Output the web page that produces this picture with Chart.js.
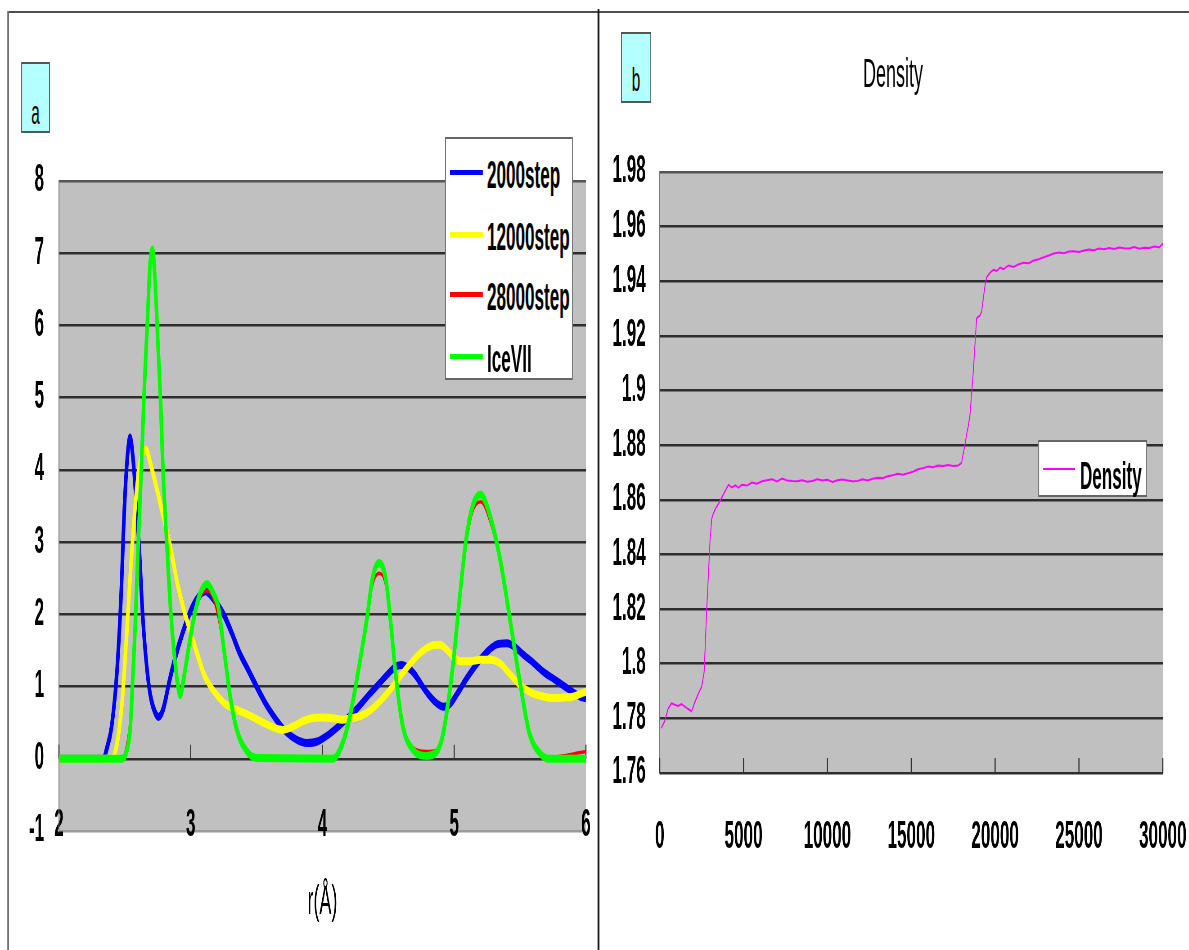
<!DOCTYPE html>
<html>
<head>
<meta charset="utf-8">
<script src="https://cdn.jsdelivr.net/npm/chart.js@4.4.1/dist/chart.umd.min.js"></script>
<style>
  html, body { margin: 0; padding: 0; background: #fff; overflow: hidden; }
  body { width: 1189px; height: 950px; position: relative; }
  /* the source image is squeezed sideways, so the whole sheet is drawn wide and scaled down */
  #page {
    --k: 2.222222;
    position: absolute; left: 0; top: 0;
    width: calc(1189px * var(--k)); height: 950px;
    transform: scaleX(0.45); transform-origin: 0 0;
    font-family: "Liberation Sans", Arial, sans-serif;
    font-weight: bold;
    color: #000;
  }
  #page div, #page canvas { position: absolute; }
  .tag { background: #b4ffff; border: 2px solid #555; box-sizing: border-box; }
  .tagText { font-size: 34px; line-height: 34px; text-align: center; font-weight: normal; }
  .legend { background: #fff; border: 2px solid #666; box-sizing: border-box; }
  .swatch { height: 5px; }
  .legText { font-size: 38px; line-height: 44px; white-space: nowrap; }
</style>
</head>
<body>
<div id="page">
  <!-- frames -->
  <div style="left:calc(8px*var(--k)); top:11px; width:calc(1181px*var(--k)); height:2px; background:#4d4d4d"></div>
  <div style="left:calc(7px*var(--k)); top:11px; width:calc(2px*var(--k)); height:939px; background:#6e6e6e"></div>
  <div style="left:calc(597.5px*var(--k)); top:9px; width:calc(2px*var(--k)); height:941px; background:#1a1a1a"></div>

  <canvas id="rdfChart" width="1329" height="950" style="left:0; top:0"></canvas>
  <canvas id="densityChart" width="1309" height="950" style="left:1333px; top:0"></canvas>

  <!-- panel a -->
  <div class="tag" style="left:calc(21px*var(--k)); top:62px; width:calc(29px*var(--k)); height:71px"></div>
  <div class="tagText" style="left:calc(21px*var(--k)); top:95px; width:calc(29px*var(--k))">a</div>

  <div class="legend" style="left:calc(445px*var(--k)); top:137px; width:calc(128px*var(--k)); height:243px"></div>
  <div class="swatch" style="left:calc(450px*var(--k)); top:170px; width:calc(33px*var(--k)); background:#0000ff"></div>
  <div class="legText" style="left:calc(487px*var(--k)); top:153px">2000step</div>
  <div class="swatch" style="left:calc(450px*var(--k)); top:232px; width:calc(33px*var(--k)); background:#ffff00"></div>
  <div class="legText" style="left:calc(487px*var(--k)); top:215px">12000step</div>
  <div class="swatch" style="left:calc(450px*var(--k)); top:292px; width:calc(33px*var(--k)); background:#ff0000"></div>
  <div class="legText" style="left:calc(487px*var(--k)); top:275px">28000step</div>
  <div class="swatch" style="left:calc(450px*var(--k)); top:354px; width:calc(33px*var(--k)); background:#00ff00"></div>
  <div class="legText" style="left:calc(487px*var(--k)); top:337px">IceVII</div>

  <!-- panel b -->
  <div class="tag" style="left:calc(621px*var(--k)); top:32px; width:calc(30px*var(--k)); height:71px"></div>
  <div class="tagText" style="left:calc(621px*var(--k)); top:62px; width:calc(30px*var(--k))">b</div>
  <div style="left:calc(793px*var(--k)); top:52px; width:calc(200px*var(--k)); font-size:40px; line-height:42px; text-align:center; font-weight:normal">Density</div>

  <div class="legend" style="left:calc(1038px*var(--k)); top:440px; width:calc(109px*var(--k)); height:57px"></div>
  <div class="swatch" style="left:calc(1043px*var(--k)); top:468px; width:calc(32px*var(--k)); height:2px; background:#ff00ff"></div>
  <div class="legText" style="left:calc(1080px*var(--k)); top:454px">Density</div>
</div>

<script>
// ---- panel a: radial distribution g(r) ----
const rdfXTicks = [2, 3, 4, 5, 6];
const rdfYTicks = [-1, 0, 1, 2, 3, 4, 5, 6, 7, 8];

const r2000 = [2.0, 2.34, 2.36, 2.40, 2.44, 2.47, 2.50, 2.525, 2.54, 2.56,
               2.585, 2.61, 2.635, 2.655, 2.68, 2.70, 2.73, 2.755, 2.79, 2.84,
               2.89, 2.94, 3.0, 3.05, 3.11, 3.17, 3.25, 3.31, 3.37, 3.44,
               3.5, 3.57, 3.65, 3.72, 3.8, 3.88, 3.96, 4.05, 4.13, 4.2,
               4.28, 4.36, 4.44, 4.51, 4.56, 4.6, 4.65, 4.7, 4.75, 4.8,
               4.86, 4.92, 4.97, 5.03, 5.09, 5.15, 5.2, 5.26, 5.32, 5.4,
               5.46, 5.52, 5.6, 5.68, 5.76, 5.84, 5.92, 5.97, 6.0];
const g2000 = [0, 0, 0.12, 0.45, 1.2, 2.2, 3.6, 4.3, 4.45, 4.2,
               3.6, 2.9, 2.0, 1.5, 1.05, 0.82, 0.64, 0.58, 0.68, 1.09,
               1.45, 1.75, 2.05, 2.22, 2.32, 2.22, 2.0, 1.75, 1.47, 1.22,
               1.0, 0.76, 0.54, 0.38, 0.27, 0.22, 0.24, 0.34, 0.46, 0.58,
               0.73, 0.9, 1.06, 1.2, 1.28, 1.3, 1.26, 1.17, 1.03, 0.9,
               0.78, 0.72, 0.76, 0.92, 1.1, 1.26, 1.38, 1.5, 1.58, 1.6,
               1.55, 1.45, 1.33, 1.2, 1.1, 1.0, 0.9, 0.85, 0.84];

const r12000 = [2.0, 2.40, 2.44, 2.48, 2.51, 2.54, 2.57, 2.60, 2.63, 2.66,
                2.70, 2.74, 2.78, 2.82, 2.86, 2.90, 2.95, 3.0, 3.05, 3.1,
                3.17, 3.25, 3.32, 3.4, 3.48, 3.55, 3.62, 3.7, 3.78, 3.85,
                3.92, 4.0, 4.08, 4.15, 4.22, 4.3, 4.37, 4.44, 4.52, 4.59,
                4.66, 4.74, 4.82, 4.89, 4.95, 5.0, 5.05, 5.12, 5.2, 5.27,
                5.35, 5.42, 5.5, 5.58, 5.66, 5.75, 5.83, 5.9, 5.96, 6.0];
const g12000 = [0, 0, 0.2, 0.8, 1.6, 2.5, 3.3, 3.9, 4.2, 4.28,
                4.05, 3.76, 3.45, 3.15, 2.8, 2.42, 2.05, 1.75, 1.45, 1.17,
                0.95, 0.78, 0.7, 0.64, 0.57, 0.5, 0.44, 0.4, 0.45, 0.52,
                0.56, 0.57, 0.56, 0.54, 0.56, 0.6, 0.68, 0.8, 0.97, 1.14,
                1.3, 1.46, 1.56, 1.58, 1.5, 1.4, 1.35, 1.35, 1.37, 1.37,
                1.32, 1.18, 1.02, 0.92, 0.87, 0.84, 0.85, 0.86, 0.9, 0.93];

// 28000step and Ice VII share the same r grid
const rIce = [2.0, 2.48, 2.52, 2.54, 2.56, 2.58, 2.60, 2.625, 2.645, 2.67,
              2.69, 2.71, 2.73, 2.75, 2.77, 2.79, 2.82, 2.85, 2.87, 2.90,
              2.92, 2.95, 2.99, 3.03, 3.07, 3.125, 3.17, 3.21, 3.25, 3.3,
              3.35, 3.42, 3.5, 4.08, 4.15, 4.21, 4.28, 4.34, 4.38, 4.43,
              4.48, 4.52, 4.56, 4.61, 4.69, 4.79, 4.87, 4.91, 4.94, 4.99,
              5.04, 5.09, 5.14, 5.2, 5.27, 5.35, 5.42, 5.5, 5.57, 5.65,
              5.72, 6.0];
const g28000 = [0, 0, 0.25, 0.55, 1.3, 2.1, 3.1, 4.1, 5.0, 5.9,
                6.7, 6.9, 6.5, 5.7, 4.9, 3.9, 2.9, 2.05, 1.6, 1.12,
                0.97, 1.2, 1.6, 1.98, 2.22, 2.33, 2.22, 1.95, 1.5, 0.88,
                0.42, 0.14, 0.03, 0.01, 0.2, 0.58, 1.25, 1.9, 2.4, 2.57,
                2.4, 1.8, 1.12, 0.5, 0.15, 0.1, 0.12, 0.33, 0.62, 1.28,
                2.15, 2.95, 3.42, 3.56, 3.3, 2.72, 1.95, 1.08, 0.4, 0.1,
                0.02, 0.1];
const gIce = [0, 0, 0.15, 0.4, 1.1, 1.9, 2.9, 4.0, 5.0, 6.0,
              6.8, 7.05, 6.6, 5.8, 5.0, 4.0, 2.93, 2.0, 1.55, 1.05,
              0.88, 1.15, 1.6, 2.0, 2.28, 2.42, 2.3, 2.1, 1.55, 0.86,
              0.4, 0.12, 0.01, 0, 0.2, 0.6, 1.3, 1.97, 2.5, 2.71,
              2.5, 1.85, 1.1, 0.45, 0.12, 0.04, 0.1, 0.3, 0.6, 1.28,
              2.2, 3.03, 3.5, 3.66, 3.38, 2.75, 1.97, 1.05, 0.36, 0.08,
              0, 0];

// ---- panel b: density vs MD step ----
const stepXTicks = [0, 5000, 10000, 15000, 20000, 25000, 30000];
const densityYTicks = [1.76, 1.78, 1.8, 1.82, 1.84, 1.86, 1.88, 1.9, 1.92, 1.94, 1.96, 1.98];

const densityStep = [100, 300, 500, 700, 900, 1100, 1300, 1500, 1700, 1900,
                     2100, 2300, 2500, 2650, 2800, 2900, 3000, 3100, 3200, 3350,
                     3500, 3700, 3900, 4100, 4300, 4500, 4700, 4900, 5200, 5500,
                     5800, 6100, 6400, 6700, 7000, 7300, 7600, 7900, 8200, 8500,
                     8800, 9100, 9400, 9700, 10000, 10300, 10600, 10900, 11200, 11500,
                     11800, 12100, 12400, 12700, 13000, 13300, 13600, 13900, 14200, 14500,
                     14800, 15100, 15400, 15700, 16000, 16300, 16600, 16900, 17200, 17500,
                     17800, 18000, 18100, 18200, 18300, 18400, 18500, 18600, 18700, 18800,
                     18900, 19000, 19100, 19200, 19300, 19400, 19500, 19700, 19900, 20100,
                     20300, 20500, 20800, 21100, 21400, 21700, 22000, 22300, 22600, 22900,
                     23200, 23500, 23800, 24100, 24400, 24700, 25000, 25300, 25600, 25900,
                     26200, 26500, 26800, 27100, 27400, 27700, 28000, 28300, 28600, 28900,
                     29200, 29500, 29800, 30000];
const densityValue = [1.7765, 1.779, 1.7835, 1.7855, 1.785, 1.7845, 1.7852, 1.7843, 1.7834, 1.7826,
                      1.786, 1.789, 1.7915, 1.797, 1.8195, 1.832, 1.845, 1.853, 1.855, 1.857,
                      1.8585, 1.8608, 1.8632, 1.8655, 1.8645, 1.8653, 1.8644, 1.8655, 1.8652, 1.8663,
                      1.8659, 1.8668, 1.8672, 1.8675, 1.8667, 1.8678, 1.8671, 1.8669, 1.8668, 1.8672,
                      1.8666, 1.8669, 1.8675, 1.8671, 1.8673, 1.8665, 1.8672, 1.8674, 1.8671, 1.8668,
                      1.8669, 1.8675, 1.8671, 1.8677, 1.8681, 1.8679, 1.8686, 1.869, 1.8695, 1.8692,
                      1.8697, 1.8703, 1.8712, 1.8716, 1.8722, 1.8719, 1.8726, 1.8724, 1.8727, 1.8724,
                      1.8726, 1.8735, 1.877, 1.880, 1.884, 1.887, 1.891, 1.899, 1.907, 1.917,
                      1.9265, 1.927, 1.9275, 1.929, 1.934, 1.9385, 1.9415, 1.9432, 1.9442, 1.9438,
                      1.945, 1.9444, 1.9458, 1.9452, 1.9462, 1.9468, 1.9466, 1.9476, 1.9481, 1.9488,
                      1.9494, 1.9502, 1.9505, 1.9503, 1.9509, 1.951, 1.9507, 1.9513, 1.9516, 1.9514,
                      1.952, 1.9517, 1.9522, 1.9518, 1.9524, 1.9521, 1.952, 1.9525, 1.9519, 1.9523,
                      1.9522, 1.9527, 1.9525, 1.9538];

const FONT = '"Liberation Sans", Arial, sans-serif';

function points(xs, ys) {
    return xs.map((x, i) => ({ x: x, y: ys[i] }));
}

function fixedTicks(list) {
    return scale => { scale.ticks = list.map(v => ({ value: v })); };
}

// grey plot area like the spreadsheet chart
const plotBackground = {
    id: 'plotBackground',
    beforeDraw(chart, args, opts) {
        const { ctx, chartArea: a } = chart;
        ctx.save();
        ctx.fillStyle = opts.color;
        ctx.fillRect(a.left, a.top, a.width, a.height);
        ctx.restore();
    }
};

// short upward tick marks sitting on the category axis
const axisTicks = {
    id: 'axisTicks',
    beforeDatasetsDraw(chart, args, opts) {
        const { ctx, scales: { x, y } } = chart;
        const base = y.getPixelForValue(opts.at);
        ctx.save();
        ctx.strokeStyle = '#333';
        ctx.lineWidth = 2.5;
        ctx.beginPath();
        x.ticks.forEach(t => {
            const px = x.getPixelForValue(t.value);
            ctx.moveTo(px, base);
            ctx.lineTo(px, base - opts.length);
        });
        ctx.stroke();
        ctx.restore();
    }
};

function rdfLine(label, xs, ys, color, width, order) {
    return {
        label: label,
        data: points(xs, ys),
        borderColor: color,
        borderWidth: width,
        pointRadius: 0,
        cubicInterpolationMode: 'monotone',
        order: order
    };
}

const tickFont = { size: 38, family: FONT, weight: 'bold' };

new Chart(document.getElementById('rdfChart'), {
    type: 'line',
    data: {
        datasets: [
            rdfLine('2000step', r2000, g2000, '#0000ff', 8, 3),
            rdfLine('12000step', r12000, g12000, '#ffff00', 8, 2),
            rdfLine('28000step', rIce, g28000, '#ff0000', 3.5, 1),
            rdfLine('IceVII', rIce, gIce, '#00ff00', 8, 0)
        ]
    },
    options: {
        responsive: false,
        animation: false,
        layout: { padding: { top: 181, right: 27, left: 0, bottom: 0 } },
        plugins: {
            legend: { display: false },
            tooltip: { enabled: false },
            plotBackground: { color: '#c0c0c0' },
            axisTicks: { at: 0, length: 14 }
        },
        scales: {
            x: {
                type: 'linear', min: 2, max: 6,
                afterBuildTicks: fixedTicks(rdfXTicks),
                afterFit: s => { s.height = 119; s.paddingLeft = 0; s.paddingRight = 0; },
                grid: { display: false },
                border: { display: false },
                // mirrored (so not clipped) and pulled down onto the lower edge of the plot, as in the sheet
                ticks: { mirror: true, padding: -17, color: '#000', maxRotation: 0, autoSkip: false,
                         font: tickFont, callback: v => String(v) },
                title: { display: true, text: 'r(Å)', color: '#000',
                         font: { size: 40, family: FONT }, padding: { top: 0, bottom: 23 } }
            },
            y: {
                min: -1, max: 8,
                afterBuildTicks: fixedTicks(rdfYTicks),
                afterFit: s => { s.width = 131; s.paddingTop = 0; s.paddingBottom = 0; },
                grid: {
                    drawTicks: false,
                    lineWidth: 2.5,
                    color: c => c.tick.value === -1 ? '#9a9a9a' : (c.tick.value === 8 ? '#555' : '#2e2e2e')
                },
                border: { display: true, color: '#7a7a7a', width: 2 },
                ticks: { padding: 33, color: '#000', font: tickFont, callback: v => String(v) }
            }
        }
    },
    plugins: [plotBackground, axisTicks]
});

new Chart(document.getElementById('densityChart'), {
    type: 'line',
    data: {
        datasets: [{
            label: 'Density',
            data: points(densityStep, densityValue),
            borderColor: '#ff00ff',
            borderWidth: 2,
            pointRadius: 0,
            tension: 0
        }]
    },
    options: {
        responsive: false,
        animation: false,
        layout: { padding: { top: 172, right: 58, left: 0, bottom: 0 } },
        plugins: {
            legend: { display: false },
            tooltip: { enabled: false },
            plotBackground: { color: '#c0c0c0' },
            axisTicks: { at: 1.76, length: 15 }
        },
        scales: {
            x: {
                type: 'linear', min: 0, max: 30000,
                afterBuildTicks: fixedTicks(stepXTicks),
                afterFit: s => { s.height = 177; s.paddingLeft = 0; s.paddingRight = 0; },
                grid: { display: false },
                border: { display: false },
                ticks: { padding: 34, color: '#000', maxRotation: 0, autoSkip: false,
                         font: tickFont, callback: v => String(v) }
            },
            y: {
                min: 1.76, max: 1.98,
                afterBuildTicks: fixedTicks(densityYTicks),
                afterFit: s => { s.width = 133; s.paddingTop = 0; s.paddingBottom = 0; },
                grid: {
                    drawTicks: false,
                    lineWidth: 2.5,
                    color: c => c.tick.value >= 1.98 ? '#555' : '#2e2e2e'
                },
                border: { display: true, color: '#7a7a7a', width: 2 },
                ticks: { padding: 31, color: '#000', font: tickFont,
                         callback: v => String(+v.toFixed(2)) }
            }
        }
    },
    plugins: [plotBackground, axisTicks]
});
</script>
</body>
</html>
